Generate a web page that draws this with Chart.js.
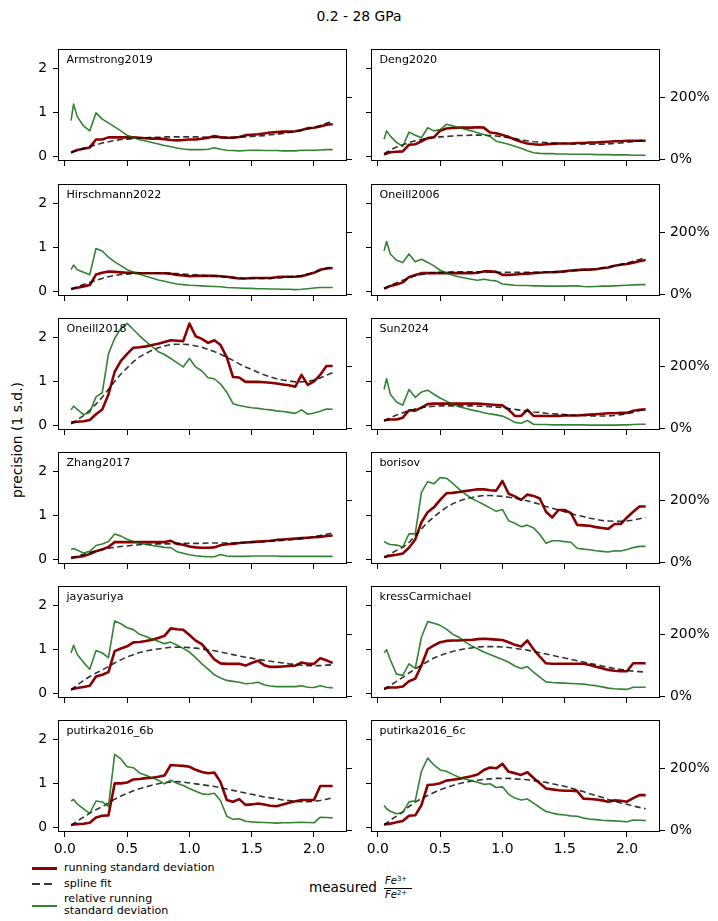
<!DOCTYPE html>
<html>
<head>
<meta charset="utf-8">
<script src="https://cdn.jsdelivr.net/npm/chart.js@4.4.1/dist/chart.umd.min.js"></script>
<style>
  body { margin: 0; background: #fff; font-family: "DejaVu Sans", sans-serif; color: #000; }
  #fig { position: relative; width: 718px; height: 921px; overflow: hidden; }
  #fig canvas { position: absolute; }
  .txt { position: absolute; white-space: nowrap; }
  .panel { font-size: 11.1px; line-height: 12px; }
  .leg { font-size: 11.1px; line-height: 12px; }
  .swatch { position: absolute; }
</style>
</head>
<body>
<div id="fig">
  <div class="txt" style="left:0;width:718px;text-align:center;top:8px;font-size:13.9px;line-height:17px;">0.2 - 28 GPa</div>
  <div class="txt" style="left:17px;top:440px;font-size:13.9px;line-height:16px;transform:translate(-50%,-50%) rotate(-90deg);">precision (1 s.d.)</div>

  <div class="txt" style="left:309px;top:879px;font-size:13.6px;line-height:17px;">measured</div>
  <div class="txt" style="left:385px;top:875px;font-size:10px;line-height:12px;"><i>Fe</i><span style="font-size:7px;position:relative;top:-3px;">3+</span></div>
  <div style="position:absolute;left:384px;top:888px;width:28px;height:1px;background:#000;"></div>
  <div class="txt" style="left:385px;top:889px;font-size:10px;line-height:12px;"><i>Fe</i><span style="font-size:7px;position:relative;top:-3px;">2+</span></div>

  <div class="swatch" style="left:32px;top:867px;width:25px;height:2.6px;background:#8b0000;"></div>
  <div class="txt leg" style="left:64px;top:862px;">running standard deviation</div>
  <div class="swatch" style="left:32px;top:883px;width:20px;height:1.6px;background:repeating-linear-gradient(to right, rgba(0,0,0,0.8) 0 8px, transparent 8px 12px);"></div>
  <div class="txt leg" style="left:64px;top:878px;">spline fit</div>
  <div class="swatch" style="left:32px;top:905px;width:25px;height:1.6px;background:rgba(0,100,0,0.8);"></div>
  <div class="txt leg" style="left:64px;top:893px;">relative running<br>standard deviation</div>
</div>
<script>
// measured Fe3+/Fe2+ grid shared by every panel
const X = [0.05, 0.07, 0.1, 0.15, 0.2, 0.25, 0.3, 0.35, 0.4, 0.45,
           0.5, 0.55, 0.6, 0.65, 0.7, 0.75, 0.8, 0.85, 0.9, 0.95,
           1.0, 1.05, 1.1, 1.15, 1.2, 1.25, 1.3, 1.35, 1.4, 1.45,
           1.5, 1.55, 1.6, 1.65, 1.7, 1.75, 1.8, 1.85, 1.9, 1.95,
           2.0, 2.05, 2.1, 2.15];

const PANELS = ["Armstrong2019", "Deng2020", "Hirschmann2022", "Oneill2006",
                "Oneill2018", "Sun2024", "Zhang2017", "borisov",
                "jayasuriya", "kressCarmichael", "putirka2016_6b", "putirka2016_6c"];

const X_TICKS = [0, 0.5, 1.0, 1.5, 2.0];
const Y_TICKS = [0, 1, 2];
const REL_TICKS = [0, 200];

// running s.d. / spline fit (left axis) and relative s.d. in % (right axis)
const armstrong2019Sd  = [0.08, 0.11, 0.14, 0.17, 0.2, 0.38, 0.38, 0.43, 0.43, 0.43, 0.43, 0.43, 0.42, 0.41, 0.40, 0.40, 0.39, 0.37, 0.36, 0.37, 0.38, 0.38, 0.40, 0.42, 0.46, 0.43, 0.42, 0.42, 0.44, 0.48, 0.49, 0.50, 0.52, 0.54, 0.55, 0.56, 0.56, 0.57, 0.60, 0.64, 0.65, 0.68, 0.72, 0.73];
const armstrong2019Fit = [0.08, 0.10, 0.13, 0.18, 0.22, 0.26, 0.30, 0.33, 0.36, 0.38, 0.39, 0.40, 0.41, 0.42, 0.43, 0.43, 0.44, 0.44, 0.44, 0.44, 0.44, 0.44, 0.44, 0.43, 0.43, 0.43, 0.43, 0.43, 0.44, 0.44, 0.45, 0.46, 0.47, 0.49, 0.50, 0.52, 0.54, 0.56, 0.59, 0.62, 0.66, 0.70, 0.75, 0.80];
const armstrong2019Rel = [125, 178, 138, 108, 92, 150, 130, 118, 105, 92, 78, 72, 64, 60, 55, 50, 45, 41, 37, 34, 32, 32, 32, 33, 38, 33, 30, 29, 28, 29, 30, 30, 29, 29, 29, 28, 28, 28, 30, 30, 30, 31, 32, 32];

const deng2020Sd  = [0.04, 0.06, 0.09, 0.10, 0.11, 0.26, 0.27, 0.34, 0.41, 0.43, 0.58, 0.63, 0.64, 0.65, 0.65, 0.65, 0.66, 0.65, 0.54, 0.52, 0.48, 0.44, 0.38, 0.33, 0.29, 0.27, 0.26, 0.27, 0.28, 0.29, 0.29, 0.29, 0.30, 0.30, 0.31, 0.31, 0.32, 0.33, 0.34, 0.34, 0.35, 0.35, 0.35, 0.35];
const deng2020Fit = [0.05, 0.09, 0.14, 0.21, 0.26, 0.31, 0.35, 0.38, 0.41, 0.43, 0.44, 0.45, 0.46, 0.47, 0.47, 0.48, 0.48, 0.48, 0.47, 0.46, 0.44, 0.42, 0.40, 0.37, 0.35, 0.33, 0.32, 0.31, 0.30, 0.29, 0.29, 0.28, 0.28, 0.28, 0.27, 0.27, 0.27, 0.28, 0.29, 0.30, 0.32, 0.33, 0.35, 0.37];
const deng2020Rel = [65, 92, 75, 55, 42, 88, 78, 70, 102, 92, 96, 113, 108, 102, 97, 92, 86, 80, 74, 59, 54, 49, 43, 36, 28, 22, 20, 19, 19, 18, 18, 17, 17, 17, 17, 16, 16, 16, 15, 15, 15, 14, 14, 14];

const hirschmann2022Sd  = [0.05, 0.06, 0.08, 0.11, 0.14, 0.38, 0.42, 0.45, 0.44, 0.43, 0.42, 0.42, 0.41, 0.41, 0.41, 0.41, 0.41, 0.40, 0.37, 0.36, 0.34, 0.35, 0.35, 0.35, 0.35, 0.34, 0.33, 0.31, 0.29, 0.29, 0.30, 0.30, 0.30, 0.30, 0.32, 0.33, 0.33, 0.33, 0.34, 0.38, 0.42, 0.49, 0.52, 0.53];
const hirschmann2022Fit = [0.05, 0.07, 0.10, 0.15, 0.20, 0.25, 0.29, 0.33, 0.36, 0.38, 0.39, 0.40, 0.41, 0.41, 0.41, 0.41, 0.41, 0.40, 0.40, 0.39, 0.38, 0.37, 0.36, 0.35, 0.34, 0.33, 0.32, 0.31, 0.30, 0.29, 0.29, 0.29, 0.29, 0.29, 0.30, 0.31, 0.32, 0.34, 0.36, 0.39, 0.43, 0.47, 0.52, 0.56];
const hirschmann2022Rel = [80, 95, 80, 72, 64, 148, 140, 120, 105, 93, 80, 72, 65, 59, 53, 47, 43, 38, 34, 32, 30, 29, 28, 27, 26, 25, 23, 22, 21, 20, 20, 19, 19, 18, 18, 17, 17, 16, 17, 19, 21, 23, 23, 23];

const oneill2006Sd  = [0.06, 0.08, 0.12, 0.15, 0.20, 0.32, 0.37, 0.41, 0.41, 0.41, 0.41, 0.41, 0.41, 0.41, 0.41, 0.41, 0.42, 0.45, 0.45, 0.44, 0.37, 0.37, 0.38, 0.39, 0.40, 0.41, 0.42, 0.43, 0.43, 0.44, 0.45, 0.47, 0.48, 0.49, 0.49, 0.50, 0.52, 0.54, 0.58, 0.60, 0.62, 0.65, 0.68, 0.71];
const oneill2006Fit = [0.06, 0.09, 0.13, 0.19, 0.25, 0.30, 0.35, 0.38, 0.40, 0.42, 0.43, 0.43, 0.44, 0.44, 0.44, 0.44, 0.44, 0.44, 0.44, 0.43, 0.43, 0.43, 0.43, 0.43, 0.43, 0.43, 0.43, 0.43, 0.44, 0.44, 0.45, 0.46, 0.47, 0.48, 0.49, 0.51, 0.53, 0.55, 0.58, 0.61, 0.64, 0.68, 0.72, 0.77];
const oneill2006Rel = [140, 170, 130, 110, 103, 130, 105, 113, 103, 92, 78, 70, 62, 57, 53, 49, 46, 49, 46, 44, 34, 32, 30, 29, 29, 28, 28, 27, 27, 27, 27, 28, 28, 26, 25, 26, 27, 27, 28, 29, 30, 31, 32, 32];

const oneill2018Sd  = [0.06, 0.07, 0.08, 0.09, 0.12, 0.25, 0.36, 0.70, 1.22, 1.47, 1.63, 1.77, 1.78, 1.80, 1.83, 1.86, 1.90, 1.94, 1.93, 1.92, 2.32, 2.03, 1.97, 1.88, 1.94, 1.83, 1.55, 1.10, 1.09, 0.99, 0.99, 0.99, 0.98, 0.97, 0.95, 0.93, 0.91, 0.88, 1.15, 0.92, 1.00, 1.15, 1.35, 1.35];
const oneill2018Fit = [0.03, 0.06, 0.12, 0.22, 0.34, 0.48, 0.64, 0.82, 1.00, 1.17, 1.31, 1.45, 1.56, 1.64, 1.71, 1.77, 1.81, 1.84, 1.85, 1.85, 1.84, 1.81, 1.78, 1.73, 1.68, 1.62, 1.55, 1.48, 1.40, 1.33, 1.27, 1.21, 1.15, 1.10, 1.06, 1.03, 1.01, 0.99, 0.99, 1.00, 1.03, 1.08, 1.14, 1.20];
const oneill2018Rel = [60, 72, 62, 45, 52, 102, 115, 240, 290, 322, 338, 318, 298, 280, 263, 247, 238, 225, 212, 198, 225, 198, 185, 163, 160, 143, 117, 80, 74, 70, 67, 65, 62, 60, 57, 55, 52, 49, 60, 46, 50, 56, 63, 62];

const sun2024Sd  = [0.10, 0.12, 0.13, 0.13, 0.17, 0.34, 0.33, 0.40, 0.48, 0.49, 0.49, 0.49, 0.49, 0.49, 0.49, 0.49, 0.49, 0.48, 0.47, 0.46, 0.45, 0.35, 0.21, 0.21, 0.35, 0.21, 0.21, 0.21, 0.21, 0.21, 0.22, 0.22, 0.22, 0.23, 0.24, 0.25, 0.26, 0.27, 0.27, 0.28, 0.28, 0.33, 0.35, 0.36];
const sun2024Fit = [0.10, 0.13, 0.17, 0.23, 0.28, 0.33, 0.37, 0.40, 0.42, 0.43, 0.44, 0.44, 0.44, 0.44, 0.44, 0.44, 0.43, 0.43, 0.42, 0.41, 0.40, 0.38, 0.36, 0.34, 0.32, 0.30, 0.29, 0.27, 0.26, 0.25, 0.24, 0.23, 0.22, 0.22, 0.21, 0.21, 0.21, 0.21, 0.22, 0.24, 0.26, 0.29, 0.33, 0.38];
const sun2024Rel = [125, 160, 110, 85, 75, 125, 100, 117, 123, 110, 98, 88, 78, 70, 65, 60, 56, 51, 47, 44, 40, 31, 20, 17, 26, 14, 13, 13, 12, 12, 12, 12, 12, 12, 11, 11, 11, 11, 11, 12, 12, 13, 14, 14];

const zhang2017Sd  = [0.03, 0.04, 0.05, 0.07, 0.12, 0.18, 0.22, 0.28, 0.39, 0.39, 0.39, 0.39, 0.39, 0.39, 0.39, 0.39, 0.39, 0.42, 0.35, 0.33, 0.29, 0.27, 0.26, 0.26, 0.27, 0.32, 0.34, 0.35, 0.37, 0.38, 0.39, 0.40, 0.41, 0.42, 0.44, 0.45, 0.46, 0.47, 0.48, 0.49, 0.50, 0.51, 0.53, 0.54];
const zhang2017Fit = [0.03, 0.05, 0.07, 0.11, 0.15, 0.19, 0.22, 0.25, 0.27, 0.29, 0.30, 0.32, 0.33, 0.34, 0.34, 0.35, 0.35, 0.35, 0.36, 0.36, 0.36, 0.36, 0.36, 0.37, 0.37, 0.37, 0.37, 0.37, 0.38, 0.38, 0.39, 0.39, 0.40, 0.41, 0.42, 0.43, 0.44, 0.45, 0.47, 0.49, 0.51, 0.54, 0.57, 0.60];
const zhang2017Rel = [42, 45, 40, 31, 36, 55, 60, 68, 92, 85, 75, 68, 62, 58, 55, 52, 49, 48, 35, 30, 25, 22, 20, 19, 19, 26, 21, 20, 20, 20, 21, 21, 21, 21, 21, 20, 20, 20, 20, 20, 20, 20, 20, 20];

const borisovSd  = [0.05, 0.06, 0.08, 0.10, 0.13, 0.26, 0.45, 0.84, 1.07, 1.18, 1.35, 1.50, 1.51, 1.53, 1.55, 1.57, 1.59, 1.59, 1.57, 1.56, 1.78, 1.49, 1.43, 1.35, 1.47, 1.44, 1.38, 1.08, 0.95, 1.12, 1.12, 1.05, 0.78, 0.77, 0.76, 0.73, 0.71, 0.69, 0.80, 0.80, 0.95, 1.08, 1.20, 1.20];
const borisovFit = [0.04, 0.07, 0.12, 0.20, 0.27, 0.38, 0.53, 0.69, 0.84, 0.96, 1.08, 1.18, 1.26, 1.32, 1.37, 1.40, 1.43, 1.45, 1.45, 1.44, 1.43, 1.41, 1.39, 1.36, 1.33, 1.29, 1.25, 1.20, 1.16, 1.12, 1.08, 1.04, 1.00, 0.97, 0.93, 0.91, 0.88, 0.87, 0.86, 0.86, 0.87, 0.89, 0.92, 0.95];
const borisovRel = [68, 62, 58, 56, 50, 92, 92, 225, 259, 252, 272, 270, 254, 236, 220, 206, 196, 186, 175, 164, 170, 134, 126, 115, 120, 111, 90, 62, 70, 70, 67, 65, 46, 43, 41, 38, 36, 34, 38, 37, 42, 48, 52, 52];

const jayasuriyaSd  = [0.09, 0.10, 0.12, 0.14, 0.17, 0.38, 0.42, 0.48, 0.96, 1.02, 1.07, 1.16, 1.17, 1.19, 1.22, 1.26, 1.31, 1.48, 1.46, 1.45, 1.33, 1.20, 1.12, 0.95, 0.77, 0.68, 0.67, 0.67, 0.67, 0.63, 0.69, 0.74, 0.64, 0.60, 0.60, 0.61, 0.62, 0.63, 0.70, 0.67, 0.67, 0.80, 0.75, 0.69];
const jayasuriyaFit = [0.07, 0.12, 0.19, 0.29, 0.38, 0.46, 0.53, 0.61, 0.69, 0.76, 0.83, 0.88, 0.93, 0.96, 0.99, 1.01, 1.03, 1.05, 1.05, 1.05, 1.04, 1.03, 1.01, 0.99, 0.97, 0.94, 0.91, 0.88, 0.85, 0.82, 0.80, 0.77, 0.75, 0.73, 0.71, 0.69, 0.67, 0.66, 0.64, 0.63, 0.63, 0.63, 0.64, 0.65];
const jayasuriyaRel = [140, 165, 135, 110, 88, 148, 140, 125, 243, 234, 221, 215, 200, 193, 185, 178, 170, 175, 165, 155, 143, 125, 105, 88, 70, 60, 52, 49, 46, 41, 43, 46, 38, 34, 32, 32, 32, 32, 35, 30, 29, 35, 30, 28];

const kressCarmichaelSd  = [0.10, 0.12, 0.13, 0.13, 0.15, 0.27, 0.33, 0.63, 1.00, 1.09, 1.16, 1.19, 1.20, 1.20, 1.21, 1.21, 1.23, 1.24, 1.23, 1.22, 1.21, 1.16, 1.10, 1.06, 1.20, 1.00, 0.83, 0.68, 0.67, 0.67, 0.67, 0.67, 0.67, 0.67, 0.64, 0.60, 0.57, 0.53, 0.51, 0.50, 0.50, 0.68, 0.68, 0.68];
const kressCarmichaelFit = [0.08, 0.12, 0.18, 0.27, 0.36, 0.46, 0.55, 0.64, 0.72, 0.80, 0.86, 0.91, 0.95, 0.98, 1.01, 1.03, 1.05, 1.06, 1.06, 1.06, 1.05, 1.04, 1.02, 1.00, 0.98, 0.95, 0.92, 0.89, 0.86, 0.83, 0.80, 0.77, 0.74, 0.71, 0.68, 0.65, 0.62, 0.59, 0.56, 0.54, 0.52, 0.50, 0.49, 0.48];
const kressCarmichaelRel = [140, 150, 118, 72, 68, 105, 90, 190, 240, 235, 228, 216, 200, 190, 175, 163, 153, 143, 135, 127, 119, 110, 98, 90, 96, 78, 62, 47, 45, 44, 43, 42, 41, 40, 37, 35, 31, 27, 25, 24, 23, 30, 30, 30];

const putirka2016_6bSd  = [0.05, 0.06, 0.07, 0.08, 0.10, 0.22, 0.26, 0.27, 1.00, 1.00, 1.02, 1.09, 1.10, 1.12, 1.13, 1.15, 1.18, 1.42, 1.41, 1.40, 1.38, 1.31, 1.26, 1.23, 1.25, 1.03, 0.62, 0.58, 0.64, 0.51, 0.52, 0.54, 0.52, 0.49, 0.48, 0.52, 0.56, 0.59, 0.62, 0.62, 0.62, 0.94, 0.94, 0.94];
const putirka2016_6bFit = [0.04, 0.08, 0.14, 0.23, 0.32, 0.40, 0.47, 0.55, 0.64, 0.71, 0.77, 0.83, 0.88, 0.92, 0.96, 0.99, 1.02, 1.03, 1.04, 1.03, 1.01, 0.99, 0.97, 0.95, 0.93, 0.90, 0.87, 0.84, 0.81, 0.78, 0.75, 0.72, 0.69, 0.67, 0.65, 0.62, 0.61, 0.59, 0.58, 0.58, 0.59, 0.61, 0.64, 0.67];
const putirka2016_6bRel = [95, 100, 85, 70, 55, 95, 92, 78, 245, 230, 205, 202, 185, 178, 170, 162, 150, 162, 152, 145, 135, 126, 118, 116, 120, 96, 46, 36, 38, 30, 28, 27, 26, 25, 24, 25, 25, 26, 27, 26, 25, 43, 42, 41];

const putirka2016_6cSd  = [0.06, 0.07, 0.08, 0.11, 0.14, 0.26, 0.27, 0.50, 0.96, 0.97, 1.00, 1.06, 1.08, 1.10, 1.13, 1.16, 1.20, 1.30, 1.36, 1.34, 1.44, 1.26, 1.23, 1.19, 1.25, 1.12, 1.00, 0.88, 0.86, 0.84, 0.83, 0.83, 0.82, 0.65, 0.64, 0.63, 0.61, 0.58, 0.61, 0.60, 0.58, 0.66, 0.73, 0.73];
const putirka2016_6cFit = [0.05, 0.09, 0.16, 0.25, 0.35, 0.47, 0.57, 0.65, 0.72, 0.79, 0.85, 0.90, 0.95, 0.99, 1.02, 1.05, 1.07, 1.09, 1.10, 1.11, 1.11, 1.11, 1.10, 1.09, 1.08, 1.06, 1.04, 1.02, 0.99, 0.96, 0.93, 0.89, 0.85, 0.81, 0.76, 0.72, 0.68, 0.63, 0.59, 0.55, 0.52, 0.48, 0.45, 0.42];
const putirka2016_6cRel = [80, 70, 62, 54, 58, 92, 95, 190, 232, 210, 194, 190, 180, 171, 165, 160, 155, 148, 150, 138, 140, 116, 104, 98, 101, 88, 74, 61, 56, 52, 50, 47, 46, 40, 37, 35, 33, 32, 31, 30, 28, 34, 33, 32];

// panel -> [running sd, spline fit, relative sd]
const SERIES = [
    [armstrong2019Sd, armstrong2019Fit, armstrong2019Rel],
    [deng2020Sd, deng2020Fit, deng2020Rel],
    [hirschmann2022Sd, hirschmann2022Fit, hirschmann2022Rel],
    [oneill2006Sd, oneill2006Fit, oneill2006Rel],
    [oneill2018Sd, oneill2018Fit, oneill2018Rel],
    [sun2024Sd, sun2024Fit, sun2024Rel],
    [zhang2017Sd, zhang2017Fit, zhang2017Rel],
    [borisovSd, borisovFit, borisovRel],
    [jayasuriyaSd, jayasuriyaFit, jayasuriyaRel],
    [kressCarmichaelSd, kressCarmichaelFit, kressCarmichaelRel],
    [putirka2016_6bSd, putirka2016_6bFit, putirka2016_6bRel],
    [putirka2016_6cSd, putirka2016_6cFit, putirka2016_6cRel],
];

const RED = "#8b0000";
const DASH = "rgba(0,0,0,0.8)";
const GREEN = "rgba(0,100,0,0.8)";

// layout of the 6x2 grid (page pixels)
const COL_LEFT = [58, 371];
const ROW_TOP = [49, 184, 318, 452, 586, 720];
const BOX_W = 289;
const BOX_H = 112;
const PAD_L = 52, PAD_R = 52, PAD_T = 14, PAD_B = 30;

const TICK_FONT = { family: "DejaVu Sans", size: 13.9 };

// black frame round each axes box
const frame = {
    id: "frame",
    afterDatasetsDraw(chart) {
        const { ctx, chartArea: a } = chart;
        ctx.save();
        ctx.strokeStyle = "#000";
        ctx.lineWidth = 1;
        ctx.strokeRect(Math.round(a.left) + 0.5, Math.round(a.top) + 0.5,
                       Math.round(a.width) - 1, Math.round(a.height) - 1);
        ctx.restore();
    }
};

function tickGrid() {
    return { drawOnChartArea: false, drawTicks: true, tickLength: 5, tickColor: "#000", tickWidth: 1 };
}

function pts(ys) {
    return X.map((x, k) => ({ x, y: ys[k] }));
}

const fig = document.getElementById("fig");

PANELS.forEach((name, i) => {
    const col = i % 2;
    const row = Math.floor(i / 2);
    const [sd, fit, rel] = SERIES[i];

    const canvas = document.createElement("canvas");
    canvas.width = BOX_W + PAD_L + PAD_R;
    canvas.height = BOX_H + PAD_T + PAD_B;
    canvas.style.left = (COL_LEFT[col] - PAD_L) + "px";
    canvas.style.top = (ROW_TOP[row] - PAD_T) + "px";
    canvas.style.width = canvas.width + "px";
    canvas.style.height = canvas.height + "px";
    fig.appendChild(canvas);

    const label = document.createElement("div");
    label.className = "txt panel";
    label.style.left = (COL_LEFT[col] + 8.5) + "px";
    label.style.top = (ROW_TOP[row] + 5) + "px";
    label.textContent = name;
    fig.appendChild(label);

    new Chart(canvas, {
        type: "line",
        data: {
            datasets: [
                { label: "relative running standard deviation", data: pts(rel), yAxisID: "y2",
                  borderColor: GREEN, borderWidth: 1.6, order: 1 },
                { label: "spline fit", data: pts(fit), yAxisID: "y",
                  borderColor: DASH, borderWidth: 1.6, borderDash: [6, 3.5], order: 2 },
                { label: "running standard deviation", data: pts(sd), yAxisID: "y",
                  borderColor: RED, borderWidth: 2.6, order: 3 }
            ]
        },
        options: {
            responsive: false,
            devicePixelRatio: 1,
            animation: false,
            events: [],
            layout: { padding: { top: PAD_T, left: 0, right: 0, bottom: 0 } },
            elements: {
                point: { radius: 0 },
                line: { tension: 0, borderJoinStyle: "round", fill: false }
            },
            plugins: { legend: { display: false }, tooltip: { enabled: false } },
            scales: {
                x: {
                    type: "linear",
                    min: -0.055,
                    max: 2.265,
                    afterBuildTicks: s => { s.ticks = X_TICKS.map(v => ({ value: v })); },
                    afterFit: s => { s.height = PAD_B; },
                    border: { display: false },
                    grid: tickGrid(),
                    ticks: { display: row === 5, color: "#000", font: TICK_FONT, padding: 4,
                             maxRotation: 0, callback: v => v.toFixed(1) }
                },
                y: {
                    position: "left",
                    min: -0.11,
                    max: 2.44,
                    afterBuildTicks: s => { s.ticks = Y_TICKS.map(v => ({ value: v })); },
                    afterFit: s => { s.width = PAD_L; },
                    border: { display: false },
                    grid: tickGrid(),
                    ticks: { display: col === 0, color: "#000", font: TICK_FONT, padding: 6 }
                },
                y2: {
                    position: "right",
                    min: -4.5,
                    max: 354,
                    afterBuildTicks: s => { s.ticks = REL_TICKS.map(v => ({ value: v })); },
                    afterFit: s => { s.width = PAD_R; },
                    border: { display: false },
                    grid: tickGrid(),
                    ticks: { display: col === 1, color: "#000", font: TICK_FONT, padding: 5,
                             callback: v => v + "%" }
                }
            }
        },
        plugins: [frame]
    });
});
</script>
</body>
</html>
